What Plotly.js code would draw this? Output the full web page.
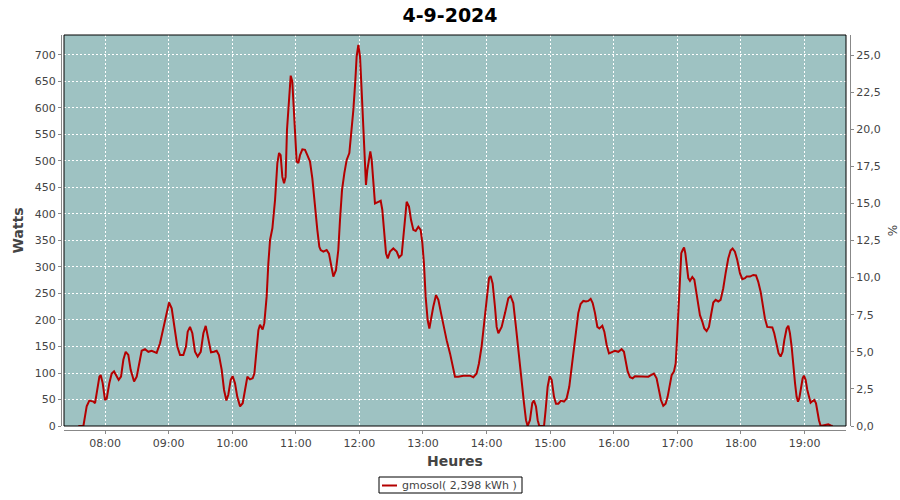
<!DOCTYPE html>
<html>
<head>
<meta charset="utf-8">
<script src="https://cdn.plot.ly/plotly-3.0.1.min.js"></script>
<style>html,body{margin:0;padding:0;background:#fff;}#chart{width:900px;height:500px;}</style>
</head>
<body>
<div id="chart"></div>
<script>
// Time of each reading, in minutes after midnight (4-9-2024)
const minutes = [
454.8, 459.6, 461.1, 462.7, 465.2, 469.0, 470.6, 472.1, 474.7, 475.9,
477.8, 480.0, 481.6, 484.1, 486.3, 488.5, 491.0, 492.9, 495.1, 497.3,
499.5, 502.0, 504.2, 507.4, 509.9, 512.1, 514.6, 517.7, 520.9, 524.0,
528.7, 531.9, 535.0, 538.2, 540.4, 542.9, 545.4, 548.2, 550.8, 553.9,
556.4, 558.0, 560.2, 562.4, 564.9, 567.4, 570.3, 572.8, 575.0, 577.5,
580.0, 582.8, 585.3, 587.5, 590.1, 592.3, 594.5, 596.3, 598.6, 600.4,
602.6, 604.8, 607.4, 609.9, 612.1, 614.3, 616.8, 619.3, 620.9, 622.5,
624.7, 626.2, 628.7, 630.3, 632.5, 634.1, 635.7, 637.9, 640.4, 642.6,
644.2, 645.7, 647.3, 648.9, 650.4, 651.7, 653.6, 655.2, 656.7, 657.7,
659.2, 660.8, 662.4, 664.0, 666.2, 668.7, 670.9, 673.4, 675.6, 678.1,
680.3, 682.2,
683.5, 686.0, 689.1, 691.3, 693.2, 695.4, 697.9, 700.1, 701.7, 703.6,
705.8, 708.0, 710.5, 712.1, 714.3, 716.2, 717.4, 719.0, 720.6, 722.1,
723.7, 724.7, 726.2, 727.5, 729.1, 730.3, 731.6, 733.1, 734.7, 737.9,
740.1, 741.6, 743.5, 745.1, 746.7, 748.9, 752.0, 755.2, 757.4, 759.9,
761.5, 763.0, 764.6, 766.8, 768.7, 770.9, 773.1, 775.6, 777.8, 779.4,
780.9, 782.5, 784.4, 786.0, 787.5, 789.7, 792.3, 794.5, 797.0, 799.2,
802.3, 805.5, 808.0, 810.2, 813.3, 818.0, 824.3, 827.5, 830.6, 832.8,
835.3, 837.9, 840.1, 842.3, 843.8, 845.7, 847.9, 849.5, 851.1,
854.2, 857.4, 860.5, 862.7, 865.2, 867.7, 869.9, 871.5, 873.1, 875.3,
877.2, 878.7, 880.9, 883.1, 884.7, 886.6, 888.2, 889.7, 891.9, 894.2,
895.7, 897.6, 899.5, 901.4, 903.6, 905.5, 907.7, 910.2, 913.0, 915.5,
918.0, 920.3, 922.5, 924.3, 926.5, 928.7, 931.3, 933.8, 936.0, 938.2,
940.1, 942.3, 944.5, 946.4, 949.2, 951.1, 953.3, 955.5, 958.0, 961.1,
964.3, 967.4, 969.6, 971.2, 973.1, 975.3, 977.8, 980.0, 984.7, 989.4,
992.6, 995.1, 997.9, 1000.4, 1002.6, 1004.5, 1006.7, 1008.9,
1010.8, 1012.4, 1014.6, 1016.8, 1018.4, 1019.3, 1020.3, 1021.5, 1022.5, 1023.7,
1025.0, 1026.3, 1027.5, 1028.8, 1030.3, 1031.9, 1034.1, 1036.0, 1037.5, 1039.7,
1041.3, 1043.5, 1045.4, 1047.6, 1049.8, 1051.7, 1053.9, 1056.1, 1058.6, 1060.8,
1063.3, 1065.5, 1068.0, 1070.2, 1072.1, 1074.3, 1076.5, 1079.1, 1081.3, 1083.8,
1085.4, 1088.5, 1091.6, 1094.2, 1096.3, 1098.6, 1100.5, 1102.6, 1104.8, 1107.4,
1109.6, 1111.4, 1113.7, 1115.5, 1117.4, 1119.3, 1120.9, 1123.1, 1124.7, 1126.2,
1127.8, 1129.4, 1131.0, 1132.5, 1133.8, 1135.0, 1136.6, 1138.2, 1139.4, 1141.0,
1142.6, 1144.2, 1145.7, 1147.6, 1149.2, 1150.8, 1152.0, 1153.6, 1155.2, 1159.2,
1162.4, 1164.6, 1166.5
];

// Power (W) at each reading
const watts = [
0, 0, 18, 37, 48, 46, 43, 59, 93, 96,
81, 49, 52, 81, 99, 103, 93, 87, 93, 125,
140, 134, 106, 84, 93, 118, 142, 145, 140, 142,
138, 156, 184, 219, 233, 222, 187, 150, 134, 134,
150, 178, 187, 175, 140, 131, 140, 175, 189, 162,
139, 140, 142, 134, 106, 68, 48, 59, 87, 94,
81, 55, 37, 43, 71, 93, 88, 90, 99, 137,
181, 191, 182, 194, 244, 307, 351, 373, 426, 496,
515, 511, 470, 458, 470, 559, 621, 661, 650, 615,
540, 499, 496, 511, 522, 521, 511, 499, 467, 408,
370, 338,
332, 329, 332, 325, 301, 282, 294, 332, 389, 445,
477, 502, 515, 546, 596, 653, 697, 719, 697, 634,
552, 496, 455, 483, 508, 518, 502, 458, 420, 423,
425, 408, 357, 326, 316, 329, 335, 329, 318, 323,
357, 398, 423, 414, 389, 370, 368, 376, 370, 345,
307, 244, 200, 184, 203, 225, 247, 238, 213, 191,
162, 137, 112, 93, 93, 95, 95, 92, 99, 118,
150, 200, 244, 279, 283, 269, 225, 187, 175,
187, 213, 241, 245, 232, 187, 143, 112, 74, 43,
11, 0, 11, 43, 48, 37, 11, 0, 0, 0,
30, 74, 94, 87, 55, 42, 42, 48, 46, 52,
74, 112, 156, 187, 213, 230, 236, 235, 236, 240,
232, 213, 187, 184, 189, 178, 153, 137, 139, 142,
140, 145, 140, 121, 103, 92, 90, 94, 94, 94,
93, 96, 99, 90, 68, 49, 38, 42,
55, 74, 96, 103, 118, 150, 187, 232, 276, 326,
332, 337, 326, 301, 279, 274, 281, 276, 257, 235,
209, 197, 184, 179, 187, 209, 233, 238, 235, 238,
260, 288, 316, 331, 335, 329, 313, 288, 277, 279,
282, 282, 285, 284, 272, 253, 228, 203, 187, 187,
186, 175, 156, 137, 131, 140, 162, 184, 189, 175,
150, 112, 81, 55, 46, 52, 71, 90, 95, 87,
68, 52, 44, 47, 49, 43, 27, 11, 0, 2,
3, 1, 0
];

const day = "2024-09-04";
const seriesName = "gmosol( 2,398 kWh )";
const chartTitle = "4-9-2024";
const xTitle = "Heures";
const yTitle = "Watts";
const y2Title = "%";
const lineColor = "#b40000";

function toStamp(m) {
  const totalSec = Math.round(m * 60);
  const h = Math.floor(totalSec / 3600);
  const mi = Math.floor((totalSec % 3600) / 60);
  const s = totalSec % 60;
  const p = n => String(n).padStart(2, "0");
  return day + " " + p(h) + ":" + p(mi) + ":" + p(s);
}
const times = minutes.map(toStamp);

const W = 900, H = 500;
const mL = 61, mR = 50, mT = 35, mB = 70;
const pw = W - mL - mR, ph = H - mT - mB;
const xd0 = 3 / pw, xd1 = (pw - 4) / pw;
const yd0 = 4 / ph;
// pixel -> paper helpers (for the legend box only)
const px = x => (x - mL) / pw;
const py = y => (H - mB - y) / ph;

const FONT = "DejaVu Sans, Verdana, sans-serif";
const tickFont = {family: FONT, size: 11, color: "#444"};
const axTitleFont = {family: FONT, size: 14, color: "#444", weight: "bold"};

const traces = [
  {
    x: times, y: watts, type: "scatter", mode: "lines",
    name: seriesName, showlegend: false,
    line: {color: lineColor, width: 2},
    hoverinfo: "x+y"
  },
  {
    x: [times[0]], y: [null], type: "scatter", mode: "lines",
    yaxis: "y2", showlegend: false, hoverinfo: "skip"
  }
];

const layout = {
  width: W, height: H,
  margin: {l: mL, r: mR, t: mT, b: mB, pad: 0, autoexpand: false},
  paper_bgcolor: "#ffffff",
  plot_bgcolor: "#9ec2c2",
  separators: ", ",
  font: {family: FONT, color: "#444"},
  title: {
    text: chartTitle, x: 0.5, xref: "container", xanchor: "center",
    y: 1 - 15 / H, yref: "container", yanchor: "middle",
    font: {family: FONT, size: 19, color: "#000", weight: "bold"}
  },
  showlegend: false,
  xaxis: {
    type: "date",
    domain: [xd0, xd1],
    anchor: "free", position: 0,
    range: [toStamp(441.3), toStamp(1179.1)],
    tick0: day + " 08:00:00", dtick: 3600000,
    tickformat: "%H:%M",
    showline: true, linecolor: "#888", linewidth: 1,
    ticks: "outside", ticklen: 3, tickcolor: "#888",
    tickfont: tickFont,
    showgrid: true, gridcolor: "#ffffff", gridwidth: 1, griddash: "2px,2px",
    zeroline: false, automargin: false,
    title: {text: xTitle, font: axTitleFont, standoff: 6}
  },
  yaxis: {
    domain: [yd0, 1],
    anchor: "free", position: 0,
    range: [0, 737.7],
    tick0: 0, dtick: 50,
    showline: true, linecolor: "#888", linewidth: 1,
    ticks: "outside", ticklen: 3, tickcolor: "#888",
    tickfont: tickFont,
    showgrid: true, gridcolor: "#ffffff", gridwidth: 1, griddash: "2px,2px",
    zeroline: false, automargin: false,
    title: {text: yTitle, font: axTitleFont, standoff: 6}
  },
  yaxis2: {
    overlaying: "y", side: "right",
    anchor: "free", position: 1,
    range: [0, 26.35],
    tick0: 0, dtick: 2.5, tickformat: ".1f",
    showline: true, linecolor: "#888", linewidth: 1,
    ticks: "outside", ticklen: 3, tickcolor: "#888",
    tickfont: tickFont,
    showgrid: false, zeroline: false, automargin: false,
    title: {text: y2Title, font: {family: FONT, size: 12, color: "#444"}, standoff: 8}
  },
  shapes: [
    {type: "rect", xref: "paper", yref: "paper", x0: xd0, x1: xd1, y0: yd0, y1: 1,
     line: {color: "#000", width: 1}, fillcolor: "rgba(0,0,0,0)", layer: "above"},
    // legend box and sample line
    {type: "rect", xref: "paper", yref: "paper", x0: px(379), x1: px(522), y0: py(493), y1: py(477),
     line: {color: "#000", width: 1}, fillcolor: "#ffffff", layer: "above"},
    {type: "line", xref: "paper", yref: "paper", x0: px(382), x1: px(397), y0: py(485.5), y1: py(485.5),
     line: {color: lineColor, width: 2}, layer: "above"}
  ],
  annotations: [
    {text: seriesName, xref: "paper", yref: "paper", x: px(400), y: py(485.5),
     xanchor: "left", yanchor: "middle", showarrow: false,
     font: {family: FONT, size: 11, color: "#444"}}
  ]
};

Plotly.newPlot("chart", traces, layout, {displayModeBar: false, responsive: false});
</script>
</body>
</html>
